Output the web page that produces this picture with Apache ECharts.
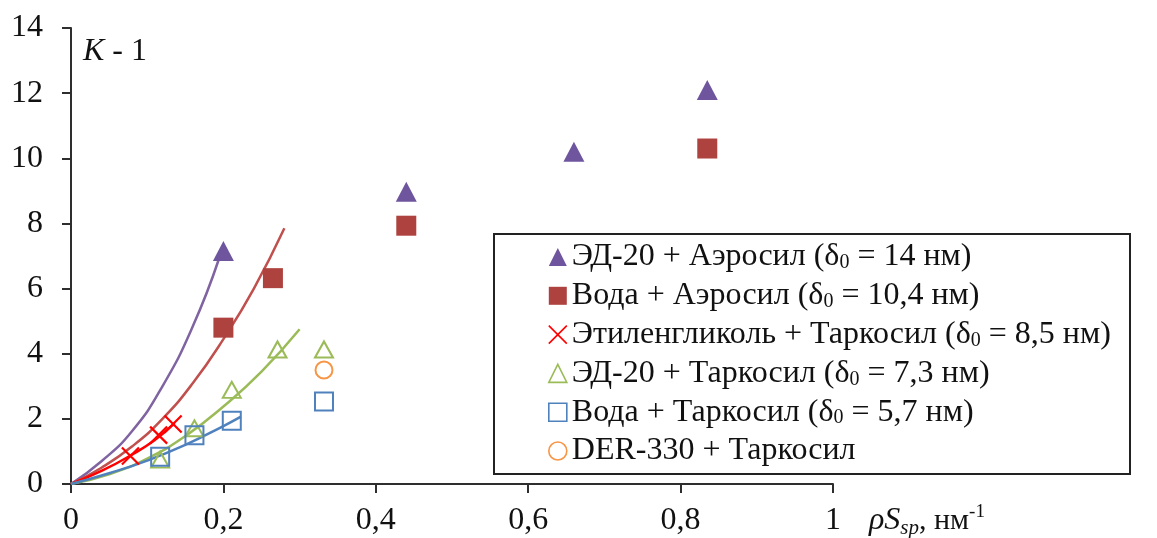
<!DOCTYPE html>
<html>
<head>
<meta charset="utf-8">
<script src="https://cdn.jsdelivr.net/npm/echarts@6/dist/echarts.min.js"></script>
<style>
  html, body { margin: 0; padding: 0; background: #fff; }
  #chart { width: 1157px; height: 538px; }
</style>
</head>
<body>
<div id="chart"></div>
<script>
// Series names (legend order)
const seriesNames = [
  'ЭД-20 + Аэросил (δ0 = 14 нм)',
  'Вода + Аэросил (δ0 = 10,4 нм)',
  'Этиленгликоль + Таркосил (δ0 = 8,5 нм)',
  'ЭД-20 + Таркосил (δ0 = 7,3 нм)',
  'Вода + Таркосил (δ0 = 5,7 нм)',
  'DER-330 + Таркосил'
];

// Measured points [ρS_sp, K - 1]
const ed20Aerosil    = [[0.2, 7.15], [0.44, 8.97], [0.66, 10.2], [0.835, 12.1]];
const waterAerosil   = [[0.2, 4.8], [0.265, 6.32], [0.44, 7.93], [0.835, 10.3]];
const glycolTarkosil = [[0.078, 0.86], [0.115, 1.5], [0.134, 1.84]];
const ed20Tarkosil   = [[0.117, 0.75], [0.162, 1.71], [0.211, 2.89], [0.271, 4.13], [0.332, 4.13]];
const waterTarkosil  = [[0.117, 0.84], [0.162, 1.5], [0.211, 1.94], [0.332, 2.53]];
const der330Tarkosil = [[0.332, 3.5]];

// Model curves
const ed20AerosilFit   = [[0, 0], [0.04, 0.7], [0.08, 1.62], [0.12, 3.0], [0.16, 4.85], [0.194, 6.9]];
const waterAerosilFit  = [[0, 0], [0.04, 0.5], [0.08, 1.15], [0.12, 2.0], [0.16, 3.1], [0.2, 4.45], [0.24, 6.0], [0.28, 7.85]];
const glycolFit        = [[0, 0], [0.04, 0.4], [0.08, 0.9], [0.11, 1.35], [0.136, 1.87]];
const ed20TarkosilFit  = [[0, 0], [0.05, 0.3], [0.1, 0.78], [0.15, 1.47], [0.2, 2.38], [0.25, 3.45], [0.3, 4.75]];
const waterTarkosilFit = [[0, 0], [0.05, 0.33], [0.1, 0.72], [0.15, 1.2], [0.2, 1.78], [0.223, 2.07]];

// Axis ticks
const xTicks = { min: 0, max: 1, step: 0.2 };
const yTicks = { min: 0, max: 14, step: 2 };

const C = {
  purple: '#6E559E', purpleLine: '#8064A2',
  red: '#AE423E', redLine: '#C0504D',
  cross: '#FF0000',
  green: '#9BBB59',
  blue: '#4F81BD',
  orange: '#F79646',
  axis: '#2e2e2e',
  text: '#111'
};
const FONT = 'Liberation Serif';
const crossPath = 'path://M0,0L10,10M10,0L0,10';

const chart = echarts.init(document.getElementById('chart'), null, { renderer: 'canvas' });

function fitLine(data, color) {
  return {
    type: 'line', data: data, smooth: true, showSymbol: false, silent: true,
    lineStyle: { color: color, width: 2.5 }, z: 2
  };
}

function fmtTick(v) {
  return Number(v.toFixed(1)).toString().replace('.', ',');
}

const option = {
  backgroundColor: '#fff',
  animation: false,
  grid: { left: 71, right: 324, top: 28, bottom: 54, containLabel: false },
  xAxis: {
    type: 'value', min: xTicks.min, max: xTicks.max, interval: xTicks.step,
    splitLine: { show: false },
    axisLine: { lineStyle: { color: C.axis, width: 2 } },
    axisTick: { inside: false, length: 9, lineStyle: { color: C.axis, width: 2 } },
    axisLabel: { formatter: fmtTick, fontFamily: FONT, fontSize: 32, color: C.text, margin: 21 }
  },
  yAxis: {
    type: 'value', min: yTicks.min, max: yTicks.max, interval: yTicks.step,
    splitLine: { show: false },
    axisLine: { lineStyle: { color: C.axis, width: 2 } },
    axisTick: { inside: false, length: 9, lineStyle: { color: C.axis, width: 2 } },
    axisLabel: { fontFamily: FONT, fontSize: 32, color: C.text, margin: 28 }
  },
  legend: {
    orient: 'vertical', left: 548, top: 241, padding: 0,
    itemWidth: 18, itemHeight: 18, itemGap: 6.8,
    selectedMode: false,
    textStyle: {
      fontFamily: FONT, fontSize: 32, color: C.text, lineHeight: 32,
      rich: { sub: { fontFamily: FONT, fontSize: 20, color: C.text, lineHeight: 13, verticalAlign: 'bottom' } }
    },
    formatter: function (name) { return name.replace('δ0', 'δ{sub|0}'); },
    data: [
      { name: seriesNames[0], icon: 'triangle', itemStyle: { color: C.purple, borderWidth: 0 } },
      { name: seriesNames[1], icon: 'rect', itemStyle: { color: C.red, borderWidth: 0 } },
      { name: seriesNames[2], icon: crossPath, itemStyle: { color: 'rgba(0,0,0,0)', borderColor: C.cross, borderWidth: 1.6 } },
      { name: seriesNames[3], icon: 'triangle', itemStyle: { color: 'rgba(0,0,0,0)', borderColor: C.green, borderWidth: 1.6 } },
      { name: seriesNames[4], icon: 'rect', itemStyle: { color: 'rgba(0,0,0,0)', borderColor: C.blue, borderWidth: 1.6 } },
      { name: seriesNames[5], icon: 'circle', itemStyle: { color: 'rgba(0,0,0,0)', borderColor: C.orange, borderWidth: 1.6 } }
    ]
  },
  graphic: [
    {
      type: 'rect', left: 493, top: 233, z: 0,
      shape: { width: 636, height: 240 },
      style: { fill: '#fff', stroke: '#222', lineWidth: 2 }
    },
    {
      type: 'text', left: 83, top: 36, z: 10,
      style: {
        text: '{i|K}{n| - 1}',
        rich: {
          i: { fontFamily: FONT, fontStyle: 'italic', fontSize: 32, fill: C.text },
          n: { fontFamily: FONT, fontSize: 32, fill: C.text }
        }
      }
    },
    {
      type: 'text', left: 869, top: 503, z: 10,
      style: {
        text: '{i|ρS}{sub|sp}{n|, нм}{sup|-1}',
        rich: {
          i: { fontFamily: FONT, fontStyle: 'italic', fontSize: 32, fill: C.text, lineHeight: 36 },
          sub: { fontFamily: FONT, fontStyle: 'italic', fontSize: 21, fill: C.text, lineHeight: 14, verticalAlign: 'bottom' },
          n: { fontFamily: FONT, fontSize: 30, fill: C.text, lineHeight: 36 },
          sup: { fontFamily: FONT, fontSize: 19, fill: C.text, lineHeight: 14, verticalAlign: 'top' }
        }
      }
    }
  ],
  series: [
    fitLine(ed20AerosilFit, C.purpleLine),
    fitLine(waterAerosilFit, C.redLine),
    fitLine(glycolFit, C.cross),
    fitLine(ed20TarkosilFit, C.green),
    fitLine(waterTarkosilFit, C.blue),
    {
      name: seriesNames[0], type: 'scatter', data: ed20Aerosil, z: 5,
      symbol: 'triangle', symbolSize: [21, 20],
      itemStyle: { color: C.purple, opacity: 1 }
    },
    {
      name: seriesNames[1], type: 'scatter', data: waterAerosil, z: 5,
      symbol: 'rect', symbolSize: 20,
      itemStyle: { color: C.red, opacity: 1 }
    },
    {
      name: seriesNames[2], type: 'scatter', data: glycolTarkosil, z: 6,
      symbol: crossPath, symbolSize: 17,
      itemStyle: { color: 'rgba(0,0,0,0)', borderColor: C.cross, borderWidth: 2.2, opacity: 1 }
    },
    {
      name: seriesNames[3], type: 'scatter', data: ed20Tarkosil, z: 5,
      symbol: 'triangle', symbolSize: [18, 16],
      itemStyle: { color: 'rgba(0,0,0,0)', borderColor: C.green, borderWidth: 2, opacity: 1 }
    },
    {
      name: seriesNames[4], type: 'scatter', data: waterTarkosil, z: 5,
      symbol: 'rect', symbolSize: 18,
      itemStyle: { color: 'rgba(0,0,0,0)', borderColor: C.blue, borderWidth: 2, opacity: 1 }
    },
    {
      name: seriesNames[5], type: 'scatter', data: der330Tarkosil, z: 5,
      symbol: 'circle', symbolSize: 17,
      itemStyle: { color: 'rgba(0,0,0,0)', borderColor: C.orange, borderWidth: 2, opacity: 1 }
    }
  ]
};

chart.setOption(option);
</script>
</body>
</html>
